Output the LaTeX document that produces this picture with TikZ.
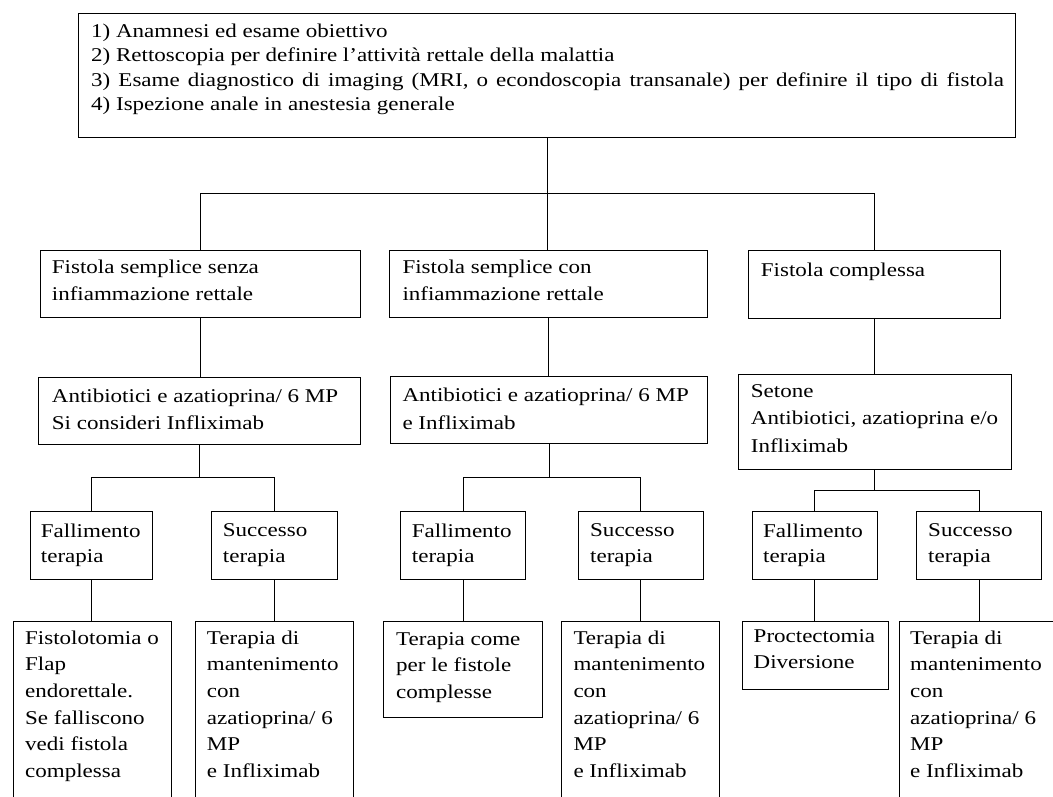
\documentclass[tikz,border=0pt]{standalone}
\usepackage{fontspec}
\setmainfont{Liberation Serif}[FakeStretch=1.18]
\usetikzlibrary{calc}
\begin{document}
\begin{tikzpicture}[x=1pt,y=-1pt,
  box/.style={draw=black, line width=0.9pt, anchor=north west, inner sep=0pt},
  txt/.style={anchor=north west, inner sep=0pt, align=left,
    execute at begin node={\rule{0pt}{18pt}}},
  fa/.style={font=\fontsize{19.5}{24.3}\selectfont},
  fb/.style={font=\fontsize{19.5}{27.3}\selectfont},
  fc/.style={font=\fontsize{19.5}{25.5}\selectfont},
  fd/.style={font=\fontsize{19.5}{26.7}\selectfont},
  wire/.style={draw=black, line width=0.9pt},
  elbow/.style={to path={(\tikztostart) |- ($(\tikztostart)!.5!(\tikztotarget)$) -| (\tikztotarget)}}]
\useasboundingbox (0,0) rectangle (1053,796);
\fill[white] (0,0) rectangle (1053,796);

% top box
\node[box, minimum width=937pt, minimum height=123.4pt] (T) at (78,13.3) {};
\node[txt, fa] (Tt) at (91,23.7) {1) Anamnesi ed esame obiettivo\\2) Rettoscopia per definire l’attività rettale della malattia\\{\spaceskip=8.1pt plus 1pt\relax 3) Esame diagnostico di imaging (MRI, o econdoscopia transanale) per definire il tipo di fistola}\\4) Ispezione anale in anestesia generale};

% level 2
\node[box, minimum width=320pt, minimum height=67.3pt] (A2) at (40,250) {};
\node[txt, fb] (A2t) at (51.7,259.7) {Fistola semplice senza\\infiammazione rettale};
\node[box, minimum width=318pt, minimum height=67.3pt] (B2) at (389.3,250) {};
\node[txt, fb] (B2t) at (402.3,259.7) {Fistola semplice con\\infiammazione rettale};
\node[box, minimum width=251.7pt, minimum height=67.5pt] (C2) at (748.3,250) {};
\node[txt, fb] (C2t) at (760.7,258.7) {Fistola complessa};

% level 3
\node[box, minimum width=321.7pt, minimum height=66.7pt] (A3) at (38.3,377.3) {};
\node[txt, fb] (A3t) at (51.7,388.7) {Antibiotici e azatioprina/ 6 MP\\Si consideri Infliximab};
\node[box, minimum width=317.3pt, minimum height=67.6pt] (B3) at (390,375.7) {};
\node[txt, fb] (B3t) at (402.3,388) {Antibiotici e azatioprina/ 6 MP\\e Infliximab};
\node[box, minimum width=273.3pt, minimum height=95.3pt] (C3) at (737.7,374) {};
\node[txt, fb] (C3t) at (750.7,384.3) {Setone\\Antibiotici, azatioprina e/o\\Infliximab};

% level 4
\node[box, minimum width=122pt, minimum height=68.3pt] (F1) at (30,510.7) {};
\node[txt, fc] (F1t) at (40.7,523.7) {Fallimento\\terapia};
\node[box, minimum width=126pt, minimum height=68.3pt] (S1) at (211.3,510.7) {};
\node[txt, fc] (S1t) at (222.7,523.7) {Successo\\terapia};
\node[box, minimum width=125pt, minimum height=68.3pt] (F2) at (400,510.7) {};
\node[txt, fc] (F2t) at (411.7,523.7) {Fallimento\\terapia};
\node[box, minimum width=125pt, minimum height=68.3pt] (S2) at (577.5,510.7) {};
\node[txt, fc] (S2t) at (590,523.7) {Successo\\terapia};
\node[box, minimum width=125pt, minimum height=68.3pt] (F3) at (751.5,510.7) {};
\node[txt, fc] (F3t) at (763,523.7) {Fallimento\\terapia};
\node[box, minimum width=125pt, minimum height=68.3pt] (S3) at (916,510.7) {};
\node[txt, fc] (S3t) at (928,523.7) {Successo\\terapia};

% level 5
\node[box, minimum width=158.3pt, minimum height=190pt] (L1) at (12.7,621) {};
\node[txt, fd] (L1t) at (25,630.3) {Fistolotomia o\\Flap\\endorettale.\\Se falliscono\\vedi fistola\\complessa};
\node[box, minimum width=158.2pt, minimum height=190pt] (L2) at (194.8,621) {};
\node[txt, fd] (L2t) at (206.7,630.3) {Terapia di\\mantenimento\\con\\azatioprina/ 6\\MP\\e Infliximab};
\node[box, minimum width=159pt, minimum height=95.7pt] (L3) at (382.7,621) {};
\node[txt, fd] (L3t) at (396,632) {Terapia come\\per le fistole\\complesse};
\node[box, minimum width=157.5pt, minimum height=190pt] (L4) at (561,621) {};
\node[txt, fd] (L4t) at (573.3,630.3) {Terapia di\\mantenimento\\con\\azatioprina/ 6\\MP\\e Infliximab};
\node[box, minimum width=146.4pt, minimum height=68pt] (L5) at (741.5,621) {};
\node[txt, fd] (L5t) at (753.5,629) {Proctectomia\\Diversione};
\node[box, minimum width=158.4pt, minimum height=190pt] (L6) at (898.6,621) {};
\node[txt, fd] (L6t) at (910,630.3) {Terapia di\\mantenimento\\con\\azatioprina/ 6\\MP\\e Infliximab};

% connectors
\path[wire] (T.south) to[elbow] (A2.north);
\path[wire] (T.south) -- (T.south |- B2.north);
\path[wire] (T.south) to[elbow] (C2.north);
\path[wire] (A2.south) -- (A2.south |- A3.north);
\path[wire] (B2.south) -- (B2.south |- B3.north);
\path[wire] (C2.south) -- (C2.south |- C3.north);
\path[wire] (A3.south) to[elbow] (F1.north);
\path[wire] (A3.south) to[elbow] (S1.north);
\path[wire] (B3.south) to[elbow] (F2.north);
\path[wire] (B3.south) to[elbow] (S2.north);
\path[wire] (C3.south) to[elbow] (F3.north);
\path[wire] (C3.south) to[elbow] (S3.north);
\path[wire] (F1.south) -- (F1.south |- L1.north);
\path[wire] (S1.south) -- (S1.south |- L2.north);
\path[wire] (F2.south) -- (F2.south |- L3.north);
\path[wire] (S2.south) -- (S2.south |- L4.north);
\path[wire] (F3.south) -- (F3.south |- L5.north);
\path[wire] (S3.south) -- (S3.south |- L6.north);
\end{tikzpicture}
\end{document}
